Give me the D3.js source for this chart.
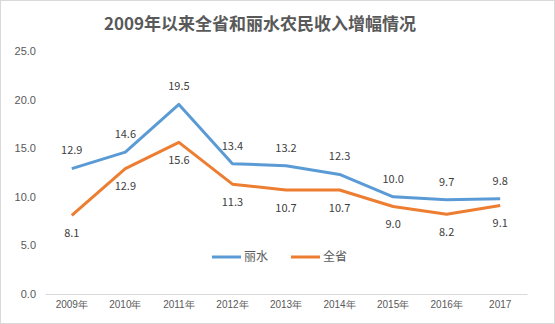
<!DOCTYPE html>
<html>
<head>
<meta charset="utf-8">
<script src="https://cdn.jsdelivr.net/npm/d3@7"></script>
<style>
  html, body { margin: 0; padding: 0; background: #fff; }
  svg { display: block; font-family: "Microsoft YaHei", "Noto Sans CJK SC", sans-serif; }
</style>
</head>
<body>
<div id="app"></div>
<script>
const years = ["2009年", "2010年", "2011年", "2012年", "2013年", "2014年", "2015年", "2016年", "2017"];
const lishui = [12.9, 14.6, 19.5, 13.4, 13.2, 12.3, 10.0, 9.7, 9.8];
const quansheng = [8.1, 12.9, 15.6, 11.3, 10.7, 10.7, 9.0, 8.2, 9.1];
const yTicks = [0, 5, 10, 15, 20, 25];

const chart = () => {
  const width = 555;
  const height = 324;
  const marginTop = 51;
  const marginRight = 28;
  const marginBottom = 30;
  const marginLeft = 45;

  const svg = d3.create("svg").attr("width", width).attr("height", height);

  svg.append("rect")
    .attr("x", 0.5).attr("y", 0.5)
    .attr("width", width - 1).attr("height", height - 1)
    .attr("fill", "#fff").attr("stroke", "#d9d9d9");

  const x = d3.scaleBand()
    .domain(years)
    .range([marginLeft, width - marginRight]);

  const y = d3.scaleLinear()
    .domain([0, 25])
    .range([height - marginBottom, marginTop]);

  svg.append("text")
    .text("2009年以来全省和丽水农民收入增幅情况")
    .attr("x", 260)
    .attr("y", 30)
    .attr("text-anchor", "middle")
    .attr("font-size", 17)
    .attr("font-weight", "bold")
    .attr("fill", "#595959");

  // y axis labels only
  svg.append("g")
    .attr("transform", `translate(${marginLeft},0)`)
    .call(d3.axisLeft(y).tickValues(yTicks).tickFormat(d3.format(".1f")).tickSize(0).tickPadding(9))
    .call(g => g.select(".domain").remove())
    .call(g => g.selectAll("text").attr("fill", "#595959").attr("font-size", 11));

  svg.append("g")
    .attr("transform", `translate(0,${y(0)})`)
    .call(d3.axisBottom(x).tickSize(0).tickPadding(7))
    .call(g => g.select(".domain").attr("stroke", "#d9d9d9"))
    .call(g => g.selectAll("text").attr("fill", "#595959").attr("font-size", 10));

  const cx = (i) => x(years[i]) + x.bandwidth() / 2;
  const line = d3.line().x((d, i) => cx(i)).y((d) => y(d));

  const series = [
    { name: "丽水", values: lishui, color: "#5B9BD5", dy: -18 },
    { name: "全省", values: quansheng, color: "#ED7D31", dy: 18 }
  ];

  series.forEach((s) => {
    svg.append("path")
      .datum(s.values)
      .attr("fill", "none")
      .attr("stroke", s.color)
      .attr("stroke-width", 3)
      .attr("stroke-linejoin", "round")
      .attr("d", line);

    svg.append("g")
      .selectAll("text")
      .data(s.values)
      .join("text")
      .attr("x", (d, i) => cx(i))
      .attr("y", (d) => y(d) + s.dy)
      .attr("dy", "0.35em")
      .attr("text-anchor", "middle")
      .attr("font-size", 11)
      .attr("fill", "#404040")
      .text((d) => d.toFixed(1));
  });

  // legend
  const legend = svg.append("g").attr("transform", "translate(212,257)");
  series.forEach((s, i) => {
    const g = legend.append("g").attr("transform", `translate(${i * 79},0)`);
    g.append("line").attr("x1", 0).attr("x2", 29).attr("stroke", s.color).attr("stroke-width", 3);
    g.append("text").text(s.name).attr("x", 32).attr("dy", "0.35em")
      .attr("font-size", 12).attr("fill", "#595959");
  });

  return svg.node();
};

d3.select("#app").append(chart);
</script>
</body>
</html>
